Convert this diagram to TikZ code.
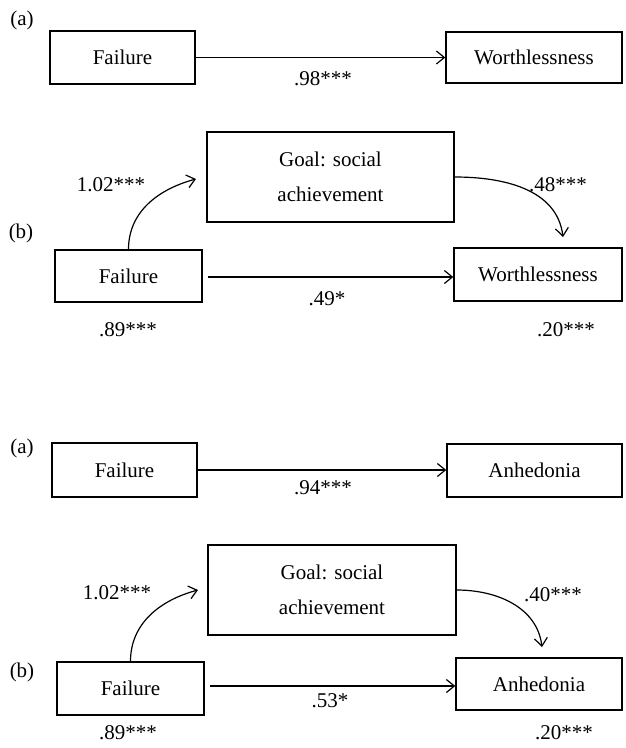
\documentclass[tikz,border=0pt]{standalone}
\usepackage{fontspec}
\setmainfont{Liberation Serif}
\usetikzlibrary{arrows.meta}
\begin{document}
\begin{tikzpicture}[x=1pt,y=-1pt,
  box/.style={draw,line width=1.4pt,inner sep=0pt,font=\fontsize{21}{35}\selectfont,align=center},
  lbl/.style={font=\fontsize{21}{25}\selectfont,inner sep=0pt},
  arr/.style={line width=1.2pt,-{Straight Barb[length=8pt,width=13pt,line width=1.2pt]}}]
\useasboundingbox (0,0) rectangle (626,748);
% ---- top (a)
\node[lbl] (la1) at (22,20) {(a)};
\node[box,minimum width=145pt,minimum height=53pt] (fa1) at (122.5,57.5) {Failure};
\node[box,minimum width=176pt,minimum height=51pt] (wa1) at (534,57.5) {Worthlessness};
\draw[arr] (fa1.east) -- (fa1.east -| wa1.west);
\node[lbl] (ca1) at (323,79) {.98***};
% ---- top (b)
\node[lbl] (lb1) at (21,233) {(b)};
\node[box,minimum width=247pt,minimum height=90pt] (gb1) at (330.5,177) {Goal: social\\achievement};
\node[box,minimum width=147pt,minimum height=52pt] (fb1) at (128.5,276) {Failure};
\node[box,minimum width=168pt,minimum height=53pt] (wb1) at (538,274.5) {Worthlessness};
\coordinate (e1) at (196,179);
\coordinate (e2) at (563,237);
\draw[arr] (fb1.north) to[out=90,in=195] (e1);
\draw[arr] (gb1.east) to[out=0,in=97] (e2);
\draw[arr] ([xshift=5pt,yshift=-1pt]fb1.east) -- ([yshift=-1pt]fb1.east -| wb1.west);
\node[lbl] (cb1) at (111,185) {1.02***};
\node[lbl] (cb2) at (558,185) {.48***};
\node[lbl] (cb3) at (327,299) {.49*};
\node[lbl] (cb4) at (128,330) {.89***};
\node[lbl] (cb5) at (566,330) {.20***};
% ---- bottom (a)
\node[lbl] (la2) at (22,448) {(a)};
\node[box,minimum width=145pt,minimum height=54pt] (fa2) at (124.5,470) {Failure};
\node[box,minimum width=175pt,minimum height=53pt] (aa2) at (534.5,470.5) {Anhedonia};
\draw[arr] (fa2.east) -- (fa2.east -| aa2.west);
\node[lbl] (ca2) at (323,488) {.94***};
% ---- bottom (b)
\node[lbl] (lb2) at (22,672) {(b)};
\node[box,minimum width=248pt,minimum height=90pt] (gb2) at (332,590) {Goal: social\\achievement};
\node[box,minimum width=147pt,minimum height=53pt] (fb2) at (130.5,688.5) {Failure};
\node[box,minimum width=166pt,minimum height=52pt] (ab2) at (539,684) {Anhedonia};
\coordinate (e3) at (198,590);
\coordinate (e4) at (542,647);
\draw[arr] (fb2.north) to[out=90,in=195] (e3);
\draw[arr] (gb2.east) to[out=0,in=97] (e4);
\draw[arr] ([xshift=5pt,yshift=2.5pt]fb2.east) -- ([yshift=2.5pt]fb2.east -| ab2.west);
\node[lbl] (cd1) at (117,593) {1.02***};
\node[lbl] (cd2) at (553,595) {.40***};
\node[lbl] (cd3) at (330,701) {.53*};
\node[lbl] (cd4) at (128,733) {.89***};
\node[lbl] (cd5) at (564,733) {.20***};
\end{tikzpicture}
\end{document}
